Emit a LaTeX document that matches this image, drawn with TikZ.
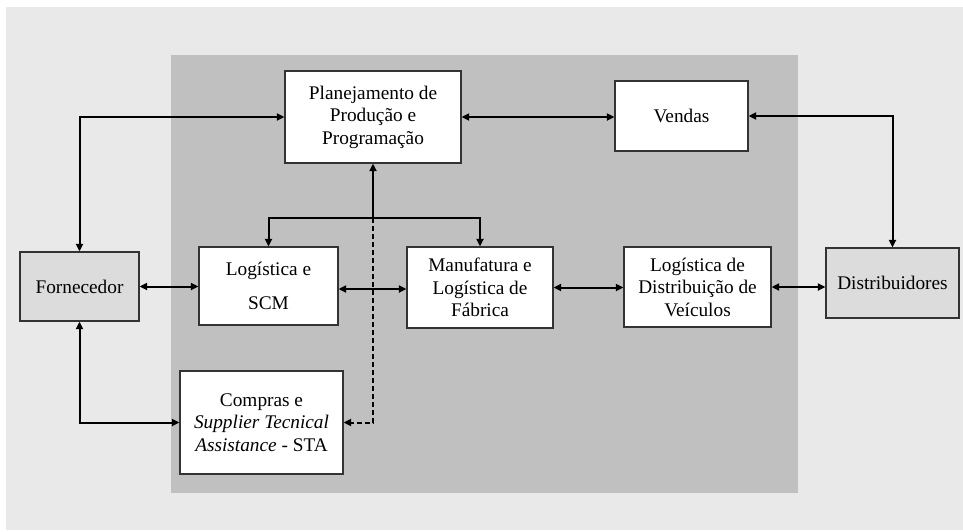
\documentclass[tikz,border=0pt]{standalone}
\usepackage{fontspec}
\setmainfont{Liberation Serif}
\usetikzlibrary{arrows.meta}
\definecolor{outerbg}{HTML}{E9E9E9}
\definecolor{innerbg}{HTML}{C0C0C0}
\definecolor{extfill}{HTML}{DCDCDC}
\begin{document}
\begin{tikzpicture}[x=1pt,y=-1pt,
  box/.style={draw=black!80,line width=1.2pt,fill=white,align=center,inner sep=0pt,
    font=\fontsize{19.3}{22.5}\selectfont},
  extbox/.style={box,fill=extfill},
  tip/.style={Triangle[length=7.5pt,width=7pt]},
  link/.style={line width=2pt,-{Triangle[length=7.5pt,width=7pt]}},
  dlink/.style={line width=2pt,{Triangle[length=7.5pt,width=7pt]}-{Triangle[length=7.5pt,width=7pt]}},
]
\useasboundingbox (0,0) rectangle (963,531);
% backgrounds
\fill[outerbg] (6,7) rectangle (963,530);
\fill[innerbg] (171,55) rectangle (798,493);

% boxes
\node[box,minimum width=176pt,minimum height=92pt] (plan) at (373,117)
  {Planejamento de\\Produção e\\Programação};
\node[box,minimum width=133pt,minimum height=70pt] (vend) at (681.5,116) {Vendas};
\node[extbox,minimum width=119pt,minimum height=69pt] (forn) at (79.5,286.5) {Fornecedor};
\node[extbox,minimum width=133pt,minimum height=70pt] (dist) at (892.5,283) {Distribuidores};
\node[box,minimum width=139pt,minimum height=78pt] (log) at (268.5,286)
  {Logística e\\[11pt]SCM};
\node[box,minimum width=146pt,minimum height=81pt] (man) at (480,287.5)
  {Manufatura e\\Logística de\\Fábrica};
\node[box,minimum width=147pt,minimum height=80pt] (ld) at (697.5,287)
  {Logística de\\Distribuição de\\Veículos};
\node[box,minimum width=163pt,minimum height=103pt] (comp) at (261.5,422.5)
  {Compras e\\\textit{Supplier Tecnical}\\\textit{Assistance} - STA};

% branch point below planning
\coordinate (br) at (373,218);

% connectors
\draw[dlink] (forn.north) |- (plan.west);
\draw[dlink] (plan.east) -- (plan.east -| vend.west);
\draw[dlink] (vend.east) -| (dist.north);
\draw[dlink] (forn.south) |- (comp.west);
\draw[link] (br) -- (plan.south);
\draw[link] (br) -| (log.north);
\draw[link] (br) -| (man.north);
\draw[line width=2pt,dash pattern=on 5pt off 3pt,-{Triangle[length=7.5pt,width=7pt]}] (br) |- (comp.east);
\draw[dlink] (forn.east) -- (forn.east -| log.west);
\draw[dlink] ([yshift=-3pt]log.east) -- ([yshift=-3pt]log.east -| man.west);
\draw[dlink] (man.east) -- (man.east -| ld.west);
\draw[dlink] (ld.east) -- (ld.east -| dist.west);
\end{tikzpicture}
\end{document}
